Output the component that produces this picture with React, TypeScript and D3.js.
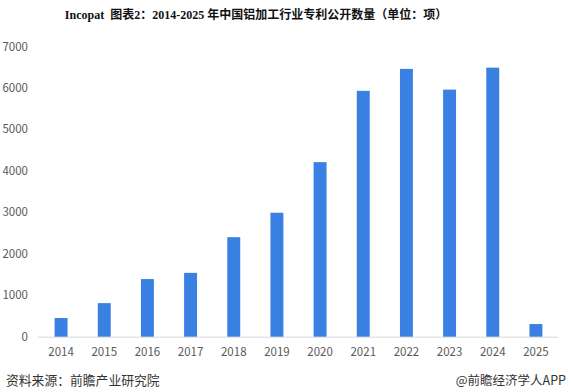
import React from "react";
import * as d3 from "d3";

const years = ["2014","2015","2016","2017","2018","2019","2020","2021","2022","2023","2024","2025"];
const patents = [450, 810, 1390, 1540, 2400, 2990, 4210, 5930, 6460, 5960, 6490, 305];
const yTicks = [0, 1000, 2000, 3000, 4000, 5000, 6000, 7000];
const title = "Incopat  图表2：2014-2025 年中国铝加工行业专利公开数量（单位：项）";
const sourceText = "资料来源：前瞻产业研究院";
const brandText = "@前瞻经济学人APP";

export default function App() {
  const W = 572, H = 392;
  const x = d3.scaleBand<string>().domain(years).range([39.5, 557.5]).paddingInner(0.7).paddingOuter(0.35);
  const y = d3.scaleLinear().domain([0, 7000]).range([336.7, 46.5]);
  const font = "'Microsoft YaHei', 'Noto Sans CJK SC', 'DejaVu Sans', sans-serif";
  return (
    <svg width={W} height={H} style={{ position: "absolute", left: 0, top: 0, background: "#fff" }}>
      <rect x={0} y={0} width={W} height={H} fill="#fff" />
      <text x={256} y={18.5} textAnchor="middle" xmlSpace="preserve" style={{ whiteSpace: "pre" }} fontFamily="'Liberation Serif', 'Noto Sans CJK SC', serif" fontWeight="bold" fontSize={12} fill="#111">{title}</text>
      {yTicks.map(t => (
        <text key={t} x={28} y={y(t)} dy="0.35em" textAnchor="end" fontFamily={font} fontSize={11.5} fill="#595959">{t}</text>
      ))}
      <line x1={38} x2={558} y1={y(0) + 0.5} y2={y(0) + 0.5} stroke="#d9d9d9" strokeWidth={1} />
      {years.map((yr, i) => (
        <rect key={yr} x={x(yr)} y={y(patents[i])} width={x.bandwidth()} height={y(0) - y(patents[i])} fill="#3a80e2" />
      ))}
      {years.map(yr => (
        <text key={yr} x={(x(yr) as number) + x.bandwidth() / 2} y={356} textAnchor="middle" fontFamily={font} fontSize={11.5} fill="#595959">{yr}</text>
      ))}
      <text x={6} y={385} fontFamily={font} fontSize={12.8} fill="#333">{sourceText}</text>
      <text x={566} y={385} textAnchor="end" fontFamily={font} fontSize={12.5} fill="#333">{brandText}</text>
    </svg>
  );
}
